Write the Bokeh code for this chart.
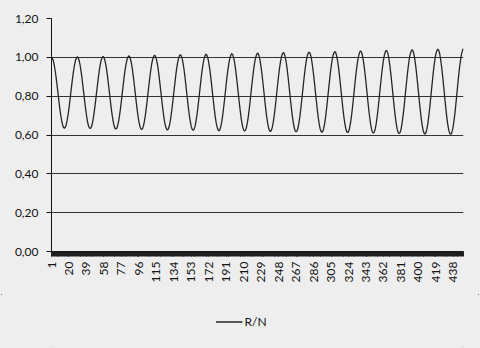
import math
from bokeh.plotting import figure
from bokeh.layouts import column
from bokeh.models import (FixedTicker, CustomJSTickFormatter, Legend, LegendItem,
                          ColumnDataSource, Range1d)
from bokeh.embed import file_html
from bokeh.resources import INLINE

# R/N values (one value per category 1..449)
rn_values = [
    1.000, 0.995, 0.982, 0.960, 0.931, 0.897, 0.858, 0.818, 0.777, 0.738, 0.704, 0.675, 0.653, 0.640, 0.635,
    0.640, 0.653, 0.675, 0.704, 0.738, 0.777, 0.818, 0.858, 0.897, 0.931, 0.960, 0.982, 0.995,
    1.003, 0.998, 0.985, 0.963, 0.933, 0.898, 0.859, 0.818, 0.777, 0.738, 0.703, 0.673, 0.651, 0.638, 0.633,
    0.638, 0.651, 0.673, 0.703, 0.738, 0.777, 0.818, 0.859, 0.898, 0.933, 0.963, 0.985, 0.998,
    1.005, 1.000, 0.986, 0.964, 0.934, 0.899, 0.859, 0.818, 0.776, 0.736, 0.701, 0.671, 0.649, 0.635, 0.630,
    0.635, 0.649, 0.671, 0.701, 0.736, 0.776, 0.818, 0.859, 0.899, 0.934, 0.964, 0.986, 1.000,
    1.008, 1.003, 0.989, 0.967, 0.937, 0.900, 0.860, 0.818, 0.776, 0.736, 0.700, 0.670, 0.647, 0.633, 0.628,
    0.633, 0.647, 0.670, 0.700, 0.736, 0.776, 0.818, 0.860, 0.900, 0.937, 0.967, 0.989, 1.003,
    1.011, 1.006, 0.992, 0.969, 0.939, 0.902, 0.861, 0.819, 0.776, 0.735, 0.699, 0.668, 0.645, 0.631, 0.626,
    0.631, 0.645, 0.668, 0.699, 0.735, 0.776, 0.819, 0.861, 0.902, 0.939, 0.969, 0.992, 1.006,
    1.014, 1.009, 0.995, 0.972, 0.941, 0.904, 0.862, 0.819, 0.776, 0.734, 0.697, 0.667, 0.643, 0.629, 0.624,
    0.629, 0.643, 0.667, 0.697, 0.734, 0.776, 0.819, 0.862, 0.904, 0.941, 0.972, 0.995, 1.009,
    1.016, 1.011, 0.997, 0.973, 0.942, 0.905, 0.863, 0.819, 0.775, 0.734, 0.696, 0.665, 0.642, 0.627, 0.622,
    0.627, 0.642, 0.665, 0.696, 0.734, 0.775, 0.819, 0.863, 0.905, 0.942, 0.973, 0.997, 1.011,
    1.019, 1.014, 0.999, 0.976, 0.944, 0.906, 0.864, 0.820, 0.775, 0.733, 0.695, 0.664, 0.640, 0.625, 0.620,
    0.625, 0.640, 0.664, 0.695, 0.733, 0.775, 0.820, 0.864, 0.906, 0.944, 0.976, 0.999, 1.014,
    1.022, 1.017, 1.002, 0.978, 0.946, 0.908, 0.865, 0.820, 0.775, 0.732, 0.694, 0.662, 0.638, 0.623, 0.618,
    0.623, 0.638, 0.662, 0.694, 0.732, 0.775, 0.820, 0.865, 0.908, 0.946, 0.978, 1.002, 1.017,
    1.025, 1.020, 1.005, 0.980, 0.948, 0.909, 0.866, 0.821, 0.775, 0.732, 0.693, 0.661, 0.636, 0.621, 0.616,
    0.621, 0.636, 0.661, 0.693, 0.732, 0.775, 0.821, 0.866, 0.909, 0.948, 0.980, 1.005, 1.020,
    1.027, 1.022, 1.007, 0.982, 0.949, 0.910, 0.866, 0.821, 0.775, 0.731, 0.692, 0.659, 0.634, 0.619, 0.614,
    0.619, 0.634, 0.659, 0.692, 0.731, 0.775, 0.821, 0.866, 0.910, 0.949, 0.982, 1.007, 1.022,
    1.030, 1.025, 1.009, 0.984, 0.951, 0.912, 0.868, 0.821, 0.775, 0.730, 0.691, 0.658, 0.633, 0.617, 0.612,
    0.617, 0.633, 0.658, 0.691, 0.730, 0.775, 0.821, 0.868, 0.912, 0.951, 0.984, 1.009, 1.025,
    1.033, 1.028, 1.012, 0.987, 0.953, 0.913, 0.869, 0.822, 0.774, 0.730, 0.690, 0.656, 0.631, 0.615, 0.610,
    0.615, 0.631, 0.656, 0.690, 0.730, 0.774, 0.822, 0.869, 0.913, 0.953, 0.987, 1.012, 1.028,
    1.036, 1.031, 1.015, 0.989, 0.955, 0.915, 0.869, 0.822, 0.774, 0.728, 0.688, 0.654, 0.628, 0.612, 0.607,
    0.612, 0.628, 0.654, 0.688, 0.728, 0.774, 0.822, 0.869, 0.915, 0.955, 0.989, 1.015, 1.031,
    1.039, 1.034, 1.018, 0.992, 0.957, 0.916, 0.870, 0.822, 0.774, 0.728, 0.687, 0.652, 0.626, 0.610, 0.605,
    0.610, 0.626, 0.652, 0.687, 0.728, 0.774, 0.822, 0.870, 0.916, 0.957, 0.992, 1.018, 1.034,
    1.042, 1.037, 1.020, 0.994, 0.959, 0.918, 0.871, 0.823, 0.774, 0.727, 0.686, 0.651, 0.625, 0.608, 0.603,
    0.608, 0.625, 0.651, 0.686, 0.727, 0.774, 0.823, 0.871, 0.918, 0.959, 0.994, 1.020, 1.037,
    1.045,
]
categories = list(range(1, len(rn_values) + 1))
x_tick_labels = [1, 20, 39, 58, 77, 96, 115, 134, 153, 172, 191, 210, 229, 248,
                 267, 286, 305, 324, 343, 362, 381, 400, 419, 438]
y_ticks = [0.0, 0.2, 0.4, 0.6, 0.8, 1.0, 1.2]
series_name = "R/N"

FONT = "Lato"
BG = "#eeeeee"
INK = "#141414"
LINE_COLOR = "#262626"

src = ColumnDataSource(data=dict(cat=categories, rn=rn_values))

p = figure(width=480, height=294, output_backend="svg", toolbar_location=None,
           x_range=Range1d(categories[0], categories[-1]), y_range=Range1d(0, 1.2),
           min_border_left=51, min_border_right=17, min_border_top=18, min_border_bottom=43)
p.background_fill_color = BG
p.border_fill_color = BG
p.outline_line_color = None

r = p.line(x="cat", y="rn", source=src, line_color=LINE_COLOR, line_width=1.3)

p.xgrid.grid_line_color = None
p.ygrid.ticker = FixedTicker(ticks=y_ticks)
p.ygrid.grid_line_color = "#333333"
p.ygrid.grid_line_width = 1.2

ya = p.yaxis[0]
ya.ticker = FixedTicker(ticks=y_ticks)
ya.formatter = CustomJSTickFormatter(code="return tick.toFixed(2).replace('.', ',');")
ya.axis_line_color = "#111111"
ya.major_tick_out = 5
ya.major_tick_in = 0
ya.minor_tick_out = 0
ya.minor_tick_in = 0
ya.major_tick_line_color = "#111111"
ya.major_label_standoff = 8
ya.major_label_text_font = FONT
ya.major_label_text_font_size = "12px"
ya.major_label_text_color = INK

xa = p.xaxis[0]
xa.ticker = FixedTicker(ticks=x_tick_labels, minor_ticks=categories)
xa.axis_line_color = "#111111"
xa.major_tick_out = 5
xa.major_tick_in = 0
xa.minor_tick_out = 5
xa.minor_tick_in = 0
xa.major_tick_line_color = "#1e1e1e"
xa.minor_tick_line_color = "#1e1e1e"
xa.major_label_orientation = math.pi / 2
xa.major_label_standoff = 5
xa.major_label_text_font = FONT
xa.major_label_text_font_size = "12px"
xa.major_label_text_color = INK

# legend strip under the chart: same series, ranges chosen so the line stays out of view
pl = figure(width=480, height=54, output_backend="svg", toolbar_location=None,
            x_range=Range1d(-2000, -1000), y_range=Range1d(-2, -1),
            x_axis_type=None, y_axis_type=None,
            min_border_left=0, min_border_right=0, min_border_top=0, min_border_bottom=0)
pl.background_fill_color = BG
pl.border_fill_color = BG
pl.outline_line_color = None
pl.grid.grid_line_color = None
r_leg = pl.line(x="cat", y="rn", source=src, line_color=LINE_COLOR, line_width=1.3)

legend = Legend(items=[LegendItem(label=series_name, renderers=[r_leg])],
                location="center", orientation="horizontal",
                glyph_width=27, glyph_height=14, label_height=14, label_width=54,
                label_standoff=2, padding=0, margin=0, spacing=0,
                background_fill_alpha=0, border_line_color=None,
                label_text_font=FONT, label_text_font_size="12px",
                label_text_color=INK)
pl.add_layout(legend)

layout = column(p, pl, spacing=0,
                styles={"outline": "1px solid #555555", "outline-offset": "-2px",
                        "background-color": BG})

open("out.html", "w").write(file_html(layout, INLINE))
